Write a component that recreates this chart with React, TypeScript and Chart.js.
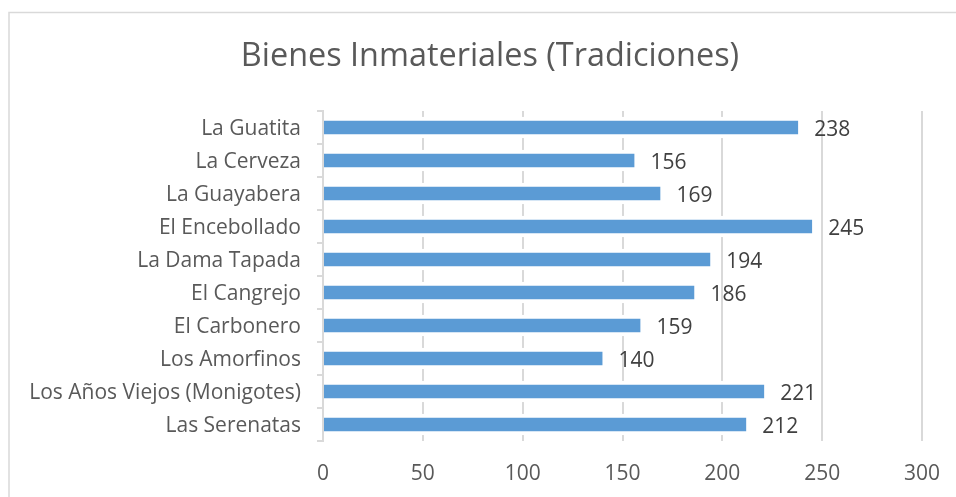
import React, { useEffect, useRef } from "react";
import { Chart, registerables } from "chart.js";

Chart.register(...registerables);

const TITLE = "Bienes Inmateriales (Tradiciones)";
const categories = [
  "La Guatita",
  "La Cerveza",
  "La Guayabera",
  "El Encebollado",
  "La Dama Tapada",
  "El Cangrejo",
  "El Carbonero",
  "Los Amorfinos",
  "Los Años Viejos (Monigotes)",
  "Las Serenatas",
];
const values = [238, 156, 169, 245, 194, 186, 159, 140, 221, 212];
const xMin = 0;
const xMax = 300;
const xStep = 50;

const FONT = "'Open Sans', Lato, sans-serif";

const framePlugin = {
  id: "frame",
  beforeDraw(chart: any) {
    const ctx = chart.ctx;
    ctx.save();
    ctx.fillStyle = "#ffffff";
    ctx.fillRect(0, 0, chart.width, chart.height);
    ctx.strokeStyle = "#d9d9d9";
    ctx.lineWidth = 1.5;
    ctx.strokeRect(9, 12.5, 2000, 2000);
    ctx.fillStyle = "#595959";
    ctx.font = `32.4px ${FONT}`;
    ctx.textAlign = "center";
    ctx.textBaseline = "alphabetic";
    ctx.fillText(TITLE, 490, 66);
    ctx.restore();
  },
};

const labelPlugin = {
  id: "barLabels",
  afterDatasetsDraw(chart: any) {
    const ctx = chart.ctx;
    const meta = chart.getDatasetMeta(0);
    ctx.save();
    ctx.fillStyle = "#404040";
    ctx.font = `21px ${FONT}`;
    ctx.textAlign = "left";
    ctx.textBaseline = "alphabetic";
    meta.data.forEach((bar: any, i: number) => {
      ctx.fillText(String(values[i]), bar.x + 16, bar.y + 8);
    });
    ctx.restore();
  },
};

export default function App() {
  const ref = useRef<HTMLCanvasElement | null>(null);
  useEffect(() => {
    if (!ref.current) return;
    const chart = new Chart(ref.current, {
      type: "bar",
      data: {
        labels: categories,
        datasets: [
          {
            data: values,
            backgroundColor: "#5b9bd5",
            borderColor: "#ffffff",
            borderWidth: { top: 4, bottom: 4, left: 0, right: 0 } as any,
            borderSkipped: false as any,
            barThickness: 21,
          },
        ],
      },
      options: {
        indexAxis: "y",
        responsive: false,
        animation: false,
        layout: { padding: { top: 111, right: 34, left: 0, bottom: 0 } },
        plugins: {
          legend: { display: false },
          title: { display: false },
          tooltip: { enabled: false },
        },
        scales: {
          x: {
            min: xMin,
            max: xMax,
            ticks: {
              stepSize: xStep,
              color: "#595959",
              font: { family: FONT, size: 21 },
              padding: 20,
            },
            grid: {
              color: "#d9d9d9",
              lineWidth: 2,
              drawTicks: false,
            },
            border: { display: false },
            afterFit: (s: any) => {
              s.height = 56;
              s.paddingLeft = 0;
              s.paddingRight = 0;
            },
          },
          y: {
            z: 1,
            ticks: {
              color: "#595959",
              font: { family: FONT, size: 21 },
              padding: 16,
              labelOffset: 2,
            },
            grid: {
              offset: true,
              drawOnChartArea: false,
              drawTicks: true,
              tickLength: 6,
              color: "#d9d9d9",
              lineWidth: 2,
            },
            border: { display: true, color: "#d9d9d9", width: 2 },
            afterFit: (s: any) => {
              s.width = 323;
              s.paddingTop = 0;
              s.paddingBottom = 0;
            },
          },
        },
      } as any,
      plugins: [framePlugin, labelPlugin],
    });
    return () => chart.destroy();
  }, []);
  return (
    <div style={{ position: "absolute", left: 0, top: 0, width: 956, height: 497 }}>
      <canvas ref={ref} width={956} height={497} style={{ display: "block" }} />
    </div>
  );
}
